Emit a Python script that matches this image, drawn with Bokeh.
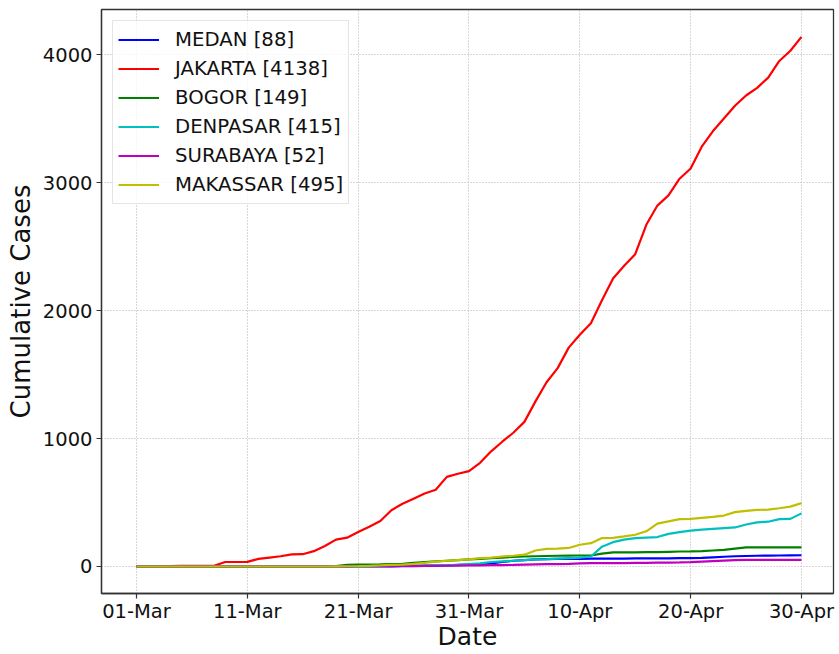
import pandas as pd
from datetime import datetime, timedelta
from bokeh.plotting import figure
from bokeh.models import Range1d, FixedTicker, DatetimeTickFormatter, Legend, LegendItem
from bokeh.embed import file_html
from bokeh.resources import INLINE

dates = list(pd.date_range("2020-03-01", "2020-04-30", freq="D"))

medan = [0]*23 + [1, 2, 3, 5, 7, 9, 12, 15, 18, 25, 35, 45, 50, 55, 58, 60, 60, 60,
                  61, 62, 62, 62, 63, 63, 64, 64, 65, 65, 68, 72, 76, 80, 82, 84, 85, 86, 87, 88]
jakarta = [0, 0, 0, 3, 5, 5, 5, 6, 35, 35, 36, 60, 70, 80, 95, 96, 120, 160, 210, 225,
           270, 310, 355, 440, 490, 530, 570, 600, 700, 725, 745, 810, 900, 975, 1045,
           1130, 1290, 1440, 1550, 1710, 1810, 1900, 2080, 2250, 2350, 2440, 2670, 2820,
           2900, 3030, 3110, 3280, 3400, 3500, 3600, 3680, 3740, 3820, 3950, 4030, 4138]
bogor = [0]*18 + [3, 12, 15, 15, 16, 18, 20, 28, 35, 40, 45, 50, 55, 60, 65, 70, 75, 78,
                  80, 82, 84, 85, 86, 86, 100, 110, 110, 110, 112, 113, 115, 117, 118, 120,
                  125, 130, 140, 149, 149, 149, 149, 149, 149]
denpasar = [0]*20 + [1, 2, 2, 3, 5, 6, 8, 9, 9, 12, 18, 25, 35, 40, 45, 50, 55, 58, 62,
                     66, 70, 78, 155, 190, 210, 222, 226, 230, 255, 268, 280, 288, 294,
                     300, 305, 328, 345, 350, 370, 372, 415]
surabaya = [0]*18 + [1, 1, 2, 2, 3, 3, 4, 4, 5, 5, 6, 7, 8, 9, 10, 11, 12, 14, 16, 18,
                     19, 21, 25, 26, 26, 27, 27, 28, 29, 30, 31, 32, 34, 38, 42, 46, 50,
                     52, 52, 52, 52, 52, 52]
makassar = [0]*18 + [1, 2, 3, 5, 8, 12, 15, 20, 28, 38, 45, 50, 55, 65, 70, 78, 84, 92,
                     125, 138, 140, 145, 170, 182, 222, 224, 235, 248, 275, 335, 352, 370,
                     372, 380, 388, 398, 425, 435, 442, 444, 455, 468, 495]

names = ["MEDAN", "JAKARTA", "BOGOR", "DENPASAR", "SURABAYA", "MAKASSAR"]
series = [medan, jakarta, bogor, denpasar, surabaya, makassar]
colors = ["#0000ff", "#ff0000", "#008000", "#00bfbf", "#bf00bf", "#bfbf00"]

tick_dates = ["2020-03-01", "2020-03-11", "2020-03-21", "2020-03-31",
              "2020-04-10", "2020-04-20", "2020-04-30"]
y_ticks = [0, 1000, 2000, 3000, 4000]

start = datetime(2020, 3, 1)
x0 = start - timedelta(days=3.158)
x1 = start + timedelta(days=62.89)

p = figure(frame_width=732, frame_height=584, output_backend="svg", toolbar_location=None,
           x_axis_type="datetime",
           x_range=Range1d(x0, x1), y_range=Range1d(-211, 4352),
           min_border_left=101, min_border_right=4, min_border_top=9, min_border_bottom=0)

p.background_fill_color = "white"
p.border_fill_color = "white"
p.outline_line_color = "#333333"
p.outline_line_width = 1.3

renderers = []
for name, ys, c in zip(names, series, colors):
    r = p.line(dates, ys, line_color=c, line_width=2.2)
    renderers.append((f"{name} [{ys[-1]}]", r))

tick_ms = [pd.Timestamp(d).value / 1e6 for d in tick_dates]
p.xaxis.ticker = FixedTicker(ticks=tick_ms)
p.xaxis.formatter = DatetimeTickFormatter(days="%d-%b", months="%d-%b", hours="%d-%b")
p.yaxis.ticker = FixedTicker(ticks=y_ticks)

for ax in (p.xaxis[0], p.yaxis[0]):
    ax.major_label_text_font = "DejaVu Sans"
    ax.major_label_text_font_size = "19.5px"
    ax.major_label_text_color = "#111111"
    ax.axis_label_text_font = "DejaVu Sans"
    ax.axis_label_text_font_style = "normal"
    ax.axis_label_text_color = "#111111"
    ax.axis_line_color = "#333333"
    ax.axis_line_width = 1.3
    ax.major_tick_line_color = "#333333"
    ax.major_tick_line_width = 1.2
    ax.major_tick_out = 5
    ax.major_tick_in = 0
    ax.minor_tick_line_color = None

p.xaxis.axis_label = "Date"
p.yaxis.axis_label = "Cumulative Cases"
p.xaxis.axis_label_text_font_size = "25px"
p.yaxis.axis_label_text_font_size = "26px"
p.xaxis.major_label_standoff = 1
p.yaxis.major_label_standoff = 4
p.xaxis.axis_label_standoff = -4
p.yaxis.axis_label_standoff = 4

for g in (p.xgrid[0], p.ygrid[0]):
    g.grid_line_color = "#b0b0b0"
    g.grid_line_dash = "1 2"
    g.grid_line_width = 1

legend = Legend(items=[LegendItem(label=l, renderers=[r]) for l, r in renderers],
                location="top_left")
legend.label_text_font = "DejaVu Sans"
legend.label_text_font_size = "19.7px"
legend.label_text_color = "#111111"
legend.glyph_width = 41
legend.glyph_height = 27
legend.label_height = 27
legend.label_standoff = 16
legend.spacing = 2
legend.padding = 5
legend.margin = 11
legend.border_line_color = "#cccccc"
legend.border_line_width = 1
legend.background_fill_alpha = 0.8
legend.label_text_baseline = "middle"
p.add_layout(legend)

open("out.html", "w").write(file_html(p, INLINE))
